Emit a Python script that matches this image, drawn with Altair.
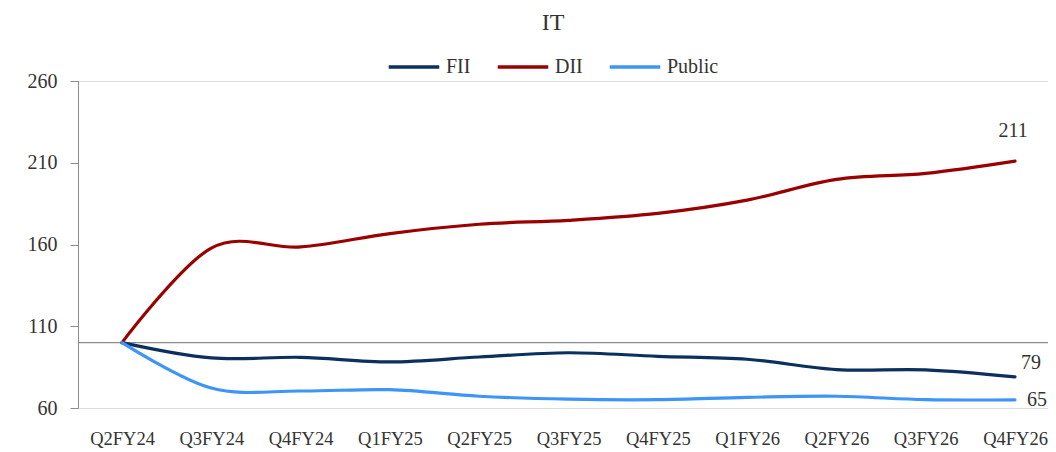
import altair as alt
import pandas as pd

quarters = ["Q2FY24", "Q3FY24", "Q4FY24", "Q1FY25", "Q2FY25", "Q3FY25",
            "Q4FY25", "Q1FY26", "Q2FY26", "Q3FY26", "Q4FY26"]
fii = [100, 90.6, 91.0, 88.2, 91.2, 93.8, 91.6, 89.8, 83.5, 83.3, 79]
dii = [100, 157.8, 158.5, 166.7, 172.4, 174.8, 179.0, 187.1, 199.8, 203.5, 211]
public = [100, 72.2, 70.4, 71.2, 67.2, 65.4, 65.1, 66.5, 67.2, 65.1, 65]
series_names = ["FII", "DII", "Public"]
series_colors = ["#0B2F5E", "#9A0000", "#3D95F7"]
base_value = [100]
y_ticks = [60, 110, 160, 210, 260]

FONT = "Liberation Serif"
TXT = "#333333"

rows = []
for name, vals in zip(series_names, [fii, dii, public]):
    for q, v in zip(quarters, vals):
        rows.append({"quarter": q, "series": name, "value": v})
df = pd.DataFrame(rows)
last_df = df[df["quarter"] == quarters[-1]].copy()
last_df["label"] = last_df["value"].round(0).astype(int).astype(str)
base_df = pd.DataFrame({"base": base_value})

x_enc = alt.X("quarter:N", sort=quarters,
              scale=alt.Scale(type="point", range=[44, 937], padding=0),
              axis=alt.Axis(title=None, domain=False, ticks=False, labelAngle=0,
                            labelFont=FONT, labelFontSize=18.5, labelColor=TXT,
                            labelPadding=21, grid=False))
y_scale = alt.Scale(domain=[60, 260], nice=False, zero=False)

base_rule = alt.Chart(base_df).mark_rule(color="#8C8C8C", strokeWidth=1.2).encode(
    y=alt.Y("base:Q", scale=y_scale)
)

lines = alt.Chart(df).mark_line(interpolate="cardinal", strokeWidth=3.2, strokeCap="round").encode(
    x=x_enc,
    y=alt.Y("value:Q", scale=y_scale,
            axis=alt.Axis(title=None, values=y_ticks, grid=False, domain=True,
                          domainColor="#8C8C8C", tickColor="#8C8C8C", tickSize=8,
                          labelFont=FONT, labelFontSize=20, labelColor=TXT,
                          labelPadding=13)),
    color=alt.Color("series:N", sort=series_names,
                    scale=alt.Scale(domain=series_names, range=series_colors),
                    legend=alt.Legend(title=None, orient="none", direction="horizontal",
                                      legendX=309, legendY=-41, symbolType="stroke",
                                      symbolSize=2550, symbolStrokeWidth=3.5,
                                      labelFont=FONT, labelFontSize=20, labelColor=TXT,
                                      labelOffset=5, columnPadding=19, padding=0)),
    detail="series:N",
)

def end_label(name, dx, dy, align):
    return alt.Chart(last_df[last_df["series"] == name]).mark_text(
        font=FONT, fontSize=20, color=TXT, dx=dx, dy=dy, align=align, baseline="middle"
    ).encode(x=alt.X("quarter:N", sort=quarters), y=alt.Y("value:Q", scale=y_scale), text="label:N")

labels = end_label("DII", -2, -30, "center") + end_label("FII", 16, -14, "center") + end_label("Public", 12, 0, "left")

chart = alt.layer(base_rule, lines, labels).properties(
    width=970, height=327,
    title=alt.TitleParams(text="IT", anchor="middle", frame="group", dx=-10, offset=5,
                          font=FONT, fontSize=24, fontWeight="normal", color=TXT),
    padding={"left": 70, "top": 73, "right": 0, "bottom": 40},
    autosize=alt.AutoSizeParams(type="none"),
).configure_view(stroke=None).configure(background="white")

chart.save("out.html", embed_options={"renderer": "svg", "actions": False})
